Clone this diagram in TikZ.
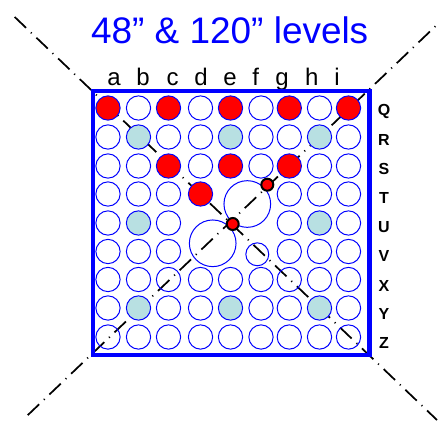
\documentclass[tikz,border=0pt]{standalone}
\usepackage{fontspec}
\setmainfont{Liberation Sans}
\definecolor{levelblue}{RGB}{0,0,255}
\definecolor{tubeteal}{RGB}{184,224,226}
\tikzset{
  tube/.style={circle,draw=levelblue,line width=0.75pt,minimum size=18.2pt,inner sep=0pt},
  tubeteal/.style={tube,fill=tubeteal},
  tubered/.style={tube,fill=red},
  bigtube/.style={tube,minimum size=35pt},
  offtube/.style={tube,minimum size=17.2pt},
  smalltube/.style={circle,draw=black,line width=1.5pt,fill=red,minimum size=9pt,inner sep=0pt},
  axisline/.style={line width=1.3pt,dash pattern=on 11.8pt off 4.95pt on 0.8pt off 4.95pt},
  axisdot/.style={line width=1.3pt,dash pattern=on 0.8pt off 4.95pt on 11.8pt off 4.95pt},
  collabel/.style={font=\fontsize{18}{18}\selectfont,anchor=base},
  rowlabel/.style={font=\fontsize{12}{12}\selectfont\bfseries}
}
\begin{document}
\begin{tikzpicture}[x=0.75pt,y=-0.75pt]
\useasboundingbox (0,0) rectangle (441,421);
\fill[white] (0,0) rectangle (441,421);
% column and row positions
\foreach \col/\cx in {a/108,b/138.5,c/168.5,d/200.5,e/230.5,f/261,g/289.3,h/319.5,i/348.5}
  \coordinate (col\col) at (\cx,0);
\foreach \row/\cy in {Q/108,R/137,S/166,T/194,U/223,V/251.5,X/279.5,Y/308,Z/337}
  \coordinate (row\row) at (0,\cy);
% labels
\node[font=\fontsize{27.7}{27.7}\selectfont,text=levelblue] (title) at (229.7,30) {48” \& 120” levels};
\foreach \col/\cx in {a/114,b/143,c/172.7,d/201,e/230,f/255.7,g/282,h/311.7,i/337}
  \node[collabel] (lab\col) at (\cx,85) {\col};
\foreach \row/\cy in {Q/111,R/140,S/169,T/198,U/227,V/256,X/286,Y/314,Z/343}
  \node[rowlabel] (lab\row) at (384,\cy) {\row};
% axes through the square
\coordinate (axisNW) at (14.7,17);
\coordinate (axisSE) at (437,420);
\coordinate (axisNE) at (435.4,26.3);
\coordinate (axisSW) at (23.7,419);
\draw[axisline] (axisNW) -- (axisSE);
\draw[axisdot] (axisNE) -- (axisSW);
% open tubes, row by row
\foreach \row/\cols in {Q/{b,d,f,h},R/{a,c,d,f,g,i},S/{a,b,d,f,h,i},T/{a,b,c,g,h,i},U/{a,c,g,i},V/{a,b,c,g,h,i},X/{a,b,c,d,e,f,g,h,i},Y/{a,c,d,f,g,i},Z/{a,b,c,d,e,f,g,h,i}}
  \foreach \col in \cols
    \node[tube] (\col\row) at (col\col |- row\row) {};
\node[offtube] (fV) at (257.3,254.3) {};
% filled tubes
\foreach \col/\row in {b/R,e/R,h/R,b/U,h/U,b/Y,e/Y,h/Y}
  \node[tubeteal] (\col\row) at (col\col |- row\row) {};
\foreach \col/\row in {a/Q,c/Q,e/Q,g/Q,i/Q,c/S,e/S,g/S,d/T}
  \node[tubered] (\col\row) at (col\col |- row\row) {};
% large openings and the two small rods
\node[bigtube] (bigN) at (247.3,204) {};
\node[bigtube] (bigS) at (212.7,243.3) {};
\node[smalltube] (rodN) at (267.3,184.7) {};
\node[smalltube] (rodS) at (232.7,224) {};
% square
\draw[levelblue,line width=3.2pt] (92.8,90.8) rectangle (369.5,355);
\end{tikzpicture}
\end{document}
